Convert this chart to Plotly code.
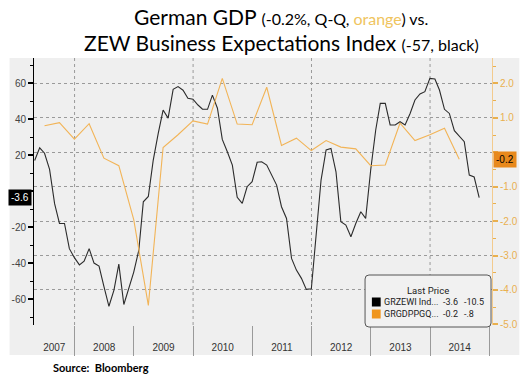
import plotly.graph_objects as go
import pandas as pd

# ---------------- data ----------------
# ZEW Economic Sentiment (monthly, plotted at month end) Apr-2007 .. Oct-2014
zew_start = "2007-04-30"
zew_2007 = [17, 24, 21, 12, -7, -18, -18, -32, -37]
zew_2008 = [-41, -39, -32, -40, -41.7, -53, -64, -55, -40.6, -63, -53.7, -45]
zew_2009 = [-33, -6, -3, 17, 32, 45, 40.5, 56.5, 58, 56, 51.5, 51]
zew_2010 = [47.8, 45.5, 45.4, 53.3, 46, 28.7, 21.8, 14.4, -3.5, -6.9, 2.4, 5.2]
zew_2011 = [16, 16.3, 14.4, 8.9, 3.3, -8.7, -15.2, -37.4, -43.9, -48.5, -54.6, -54.3]
zew_2012 = [-23.5, 6.1, 22.8, 23.7, 10.7, -17, -18.9, -25.4, -18, -11.5, -15.2, 11.7]
zew_2013 = [33.9, 48.7, 48.7, 36.7, 36.7, 38.5, 36.7, 43.1, 50.6, 53.9, 55.2, 62.6]
zew_2014 = [62.2, 56.1, 45.4, 43.1, 33.5, 30.2, 27.4, 8.9, 7.8, -3.6]
zew_values = zew_2007 + zew_2008 + zew_2009 + zew_2010 + zew_2011 + zew_2012 + zew_2013 + zew_2014

# German GDP q/q % (quarterly, plotted at quarter end) Q2-2007 .. Q2-2014
gdp_start = "2007-06-30"
gdp_values = [0.77, 0.86, 0.38,
              0.83, -0.17, -0.39, -1.96,
              -4.45, 0.14, 0.51, 0.91,
              0.82, 2.15, 0.82, 0.8,
              1.89, 0.2, 0.41, 0.05,
              0.34, 0.15, 0.1, -0.39,
              -0.37, 0.85, 0.34, 0.51,
              0.7, -0.2]

years = [2007, 2008, 2009, 2010, 2011, 2012, 2013, 2014]
grid_years = [2008, 2010, 2012, 2014]
x_range = ["2007-04-26", "2015-01-18"]

zew_ticks = [-60, -40, -20, 0, 20, 40, 60]
zew_ticktext = ["-60", "-40", "-20", "", "20", "40", "60"]   # 0 hidden behind the -3.6 tag
gdp_ticks = [-5, -4, -3, -2, -1, 0, 1, 2]
gdp_ticktext = ["-5.0", "-4.0", "-3.0", "-2.0", "-1.0", "", "1.0", "2.0"]  # 0 hidden behind tag

legend_names = ["GRZEWI Ind...", "GRGDPPGQ..."]
legend_col2 = ["-10.5", "-.8"]

zew_dates = pd.date_range(zew_start, periods=len(zew_values), freq="ME")
gdp_dates = pd.date_range(gdp_start, periods=len(gdp_values), freq="QE")

# ---------------- styling ----------------
W, H = 530, 378
ML, MR, MT, MB = 30, 31, 58, 53
PW, PH = W - ML - MR, H - MT - MB
BLACK_LINE = "#2b2b2b"
ORANGE_LINE = "#F2B457"
ORANGE_TXT = "#E9B04F"
BG = "#efefef"
FONT = "Liberation Sans, Arial, sans-serif"
LFONT = "Roboto, Liberation Sans, sans-serif"
TFONT = "Lato, Open Sans, sans-serif"


def fx(px):
    return (px - ML) / PW


def fy(py):
    return (MT + PH - py) / PH


fig = go.Figure()
fig.add_trace(go.Scatter(x=gdp_dates, y=gdp_values, mode="lines", yaxis="y2",
                         line=dict(color=ORANGE_LINE, width=1.1), name="GRGDPPGQ"))
fig.add_trace(go.Scatter(x=zew_dates, y=zew_values, mode="lines", yaxis="y",
                         line=dict(color=BLACK_LINE, width=1.1), name="GRZEWI"))

# year labels centred in the visible part of each year
r0, r1 = pd.Timestamp(x_range[0]), pd.Timestamp(x_range[1])
label_pos = []
for yr in years:
    a = max(pd.Timestamp(f"{yr}-01-01"), r0)
    b = min(pd.Timestamp(f"{yr + 1}-01-01"), r1)
    label_pos.append(a + (b - a) / 2)
boundaries = [pd.Timestamp(f"{yr + 1}-01-01") for yr in years]

shapes = []
# grey chart panel
shapes.append(dict(type="rect", xref="paper", yref="paper", layer="below",
                   x0=fx(5), x1=fx(527), y0=fy(355), y1=fy(MT),
                   fillcolor=BG, line=dict(width=0)))
# vertical dotted grid every two years
for gy in grid_years:
    d = pd.Timestamp(f"{gy}-01-01")
    shapes.append(dict(type="line", xref="x", yref="paper", x0=d, x1=d, y0=0, y1=1,
                       line=dict(color="#9a9a9a", width=1, dash="dot"), layer="below"))


# legend box (rounded)
def rounded(x0, y0, x1, y1, r):
    X0, X1, Y0, Y1 = fx(x0), fx(x1), fy(y0), fy(y1)
    rx, ry = r / PW, r / PH
    return (f"M {X0 + rx},{Y0} L {X1 - rx},{Y0} Q {X1},{Y0} {X1},{Y0 - ry} "
            f"L {X1},{Y1 + ry} Q {X1},{Y1} {X1 - rx},{Y1} L {X0 + rx},{Y1} "
            f"Q {X0},{Y1} {X0},{Y1 + ry} L {X0},{Y0 - ry} Q {X0},{Y0} {X0 + rx},{Y0} Z")


shapes.append(dict(type="path", xref="paper", yref="paper",
                   path=rounded(369, 275, 498, 327, 4),
                   fillcolor="#f1f1f1", line=dict(color="#555555", width=1)))
sq_colors = ["#000000", "#F0961E"]
row_y = [302, 314]
for c, ry in zip(sq_colors, row_y):
    shapes.append(dict(type="rect", xref="paper", yref="paper",
                       x0=fx(376), x1=fx(385), y0=fy(ry + 4.5), y1=fy(ry - 4.5),
                       fillcolor=c, line=dict(width=0)))

annotations = []
# title
annotations.append(dict(
    xref="paper", yref="paper", x=fx(283), y=fy(16), xanchor="center", yanchor="middle",
    showarrow=False, font=dict(family=TFONT, size=21, color="#000"),
    text="German GDP <span style='font-size:16px'>(-0.2%, Q-Q, "
         "<span style='color:#EFC45E'>orange</span>) vs.</span>"))
annotations.append(dict(
    xref="paper", yref="paper", x=fx(283), y=fy(42), xanchor="center", yanchor="middle",
    showarrow=False, font=dict(family=TFONT, size=21, color="#000"),
    text="ZEW Business Expectations Index <span style='font-size:16px'>(-57, black)</span>"))
# source
annotations.append(dict(
    xref="paper", yref="paper", x=fx(47), y=fy(367), xanchor="left", yanchor="middle",
    showarrow=False, font=dict(family=TFONT, size=11, color="#000"),
    text="<b>Source:  Bloomberg</b>"))
# last value tags on the axes
annotations.append(dict(
    xref="paper", yref="y", x=0, y=zew_values[-1], xanchor="right", yanchor="middle",
    xshift=-2, showarrow=False, bgcolor="#000000", borderpad=2,
    font=dict(family=FONT, size=10, color="#ffffff"), text=f"{zew_values[-1]:.1f}"))
annotations.append(dict(
    xref="paper", yref="y2", x=1, y=gdp_values[-1], xanchor="left", yanchor="middle",
    xshift=1, showarrow=False, bgcolor="#E8891C", borderpad=2,
    font=dict(family=FONT, size=10, color="#000000"), text=f"{gdp_values[-1]:.1f}"))
# legend texts
annotations.append(dict(
    xref="paper", yref="paper", x=fx(433), y=fy(290), xanchor="center", yanchor="middle",
    showarrow=False, font=dict(family=LFONT, size=9.5, color="#222"), text="Last Price"))
last_vals = [f"{zew_values[-1]:.1f}", f"{gdp_values[-1]:.1f}"]
for name, v1, v2, ry in zip(legend_names, last_vals, legend_col2, row_y):
    annotations.append(dict(xref="paper", yref="paper", x=fx(386), y=fy(ry), xanchor="left",
                            yanchor="middle", showarrow=False,
                            font=dict(family=LFONT, size=9, color="#222"), text=name))
    annotations.append(dict(xref="paper", yref="paper", x=fx(447), y=fy(ry), xanchor="left",
                            yanchor="middle", showarrow=False,
                            font=dict(family=LFONT, size=9, color="#222"), text=v1))
    annotations.append(dict(xref="paper", yref="paper", x=fx(468), y=fy(ry), xanchor="left",
                            yanchor="middle", showarrow=False,
                            font=dict(family=LFONT, size=9, color="#222"), text=v2))

fig.update_layout(
    width=W, height=H,
    margin=dict(l=ML, r=MR, t=MT, b=MB, pad=0),
    paper_bgcolor="#ffffff", plot_bgcolor=BG,
    showlegend=False,
    font=dict(family=FONT, size=10, color="#333"),
    xaxis=dict(type="date", range=x_range, tickmode="array", tickvals=label_pos,
               ticktext=[str(y) for y in years], ticks="outside", ticklen=13,
               tickcolor="rgba(0,0,0,0)", showgrid=False, zeroline=False, showline=False,
               tickfont=dict(family=FONT, size=10, color="#333"),
               minor=dict(tickmode="array", tickvals=boundaries, ticks="outside",
                          ticklen=30, tickcolor="#9a9a9a", tickwidth=1, showgrid=False)),
    yaxis=dict(range=[-74.4, 73.9], tickmode="array", tickvals=zew_ticks, ticktext=zew_ticktext,
               ticks="outside", ticklen=5, tickwidth=2, tickcolor="#000",
               minor=dict(tickmode="linear", tick0=0, dtick=10, ticks="outside", ticklen=3,
                          tickcolor="#000", tickwidth=1),
               showgrid=False, zeroline=False, showline=True, linecolor="#000", linewidth=1,
               tickfont=dict(family=FONT, size=10, color="#444")),
    yaxis2=dict(overlaying="y", side="right", range=[-5.02, 2.74], tickmode="array",
                tickvals=gdp_ticks, ticktext=gdp_ticktext, ticks="outside", ticklen=5, tickwidth=2,
                tickcolor=ORANGE_TXT,
                minor=dict(tickmode="linear", tick0=0, dtick=0.5, ticks="outside", ticklen=3,
                           tickcolor=ORANGE_TXT, tickwidth=1),
                showgrid=True, gridcolor="#9a9a9a", griddash="dot", gridwidth=1,
                zeroline=False, showline=True, linecolor="#F3CB8E", linewidth=1,
                tickfont=dict(family=FONT, size=10, color=ORANGE_TXT)),
    shapes=shapes,
    annotations=annotations,
)

fig.write_html("out.html", config={"displayModeBar": False},
               post_script="document.body.style.margin='0';")
